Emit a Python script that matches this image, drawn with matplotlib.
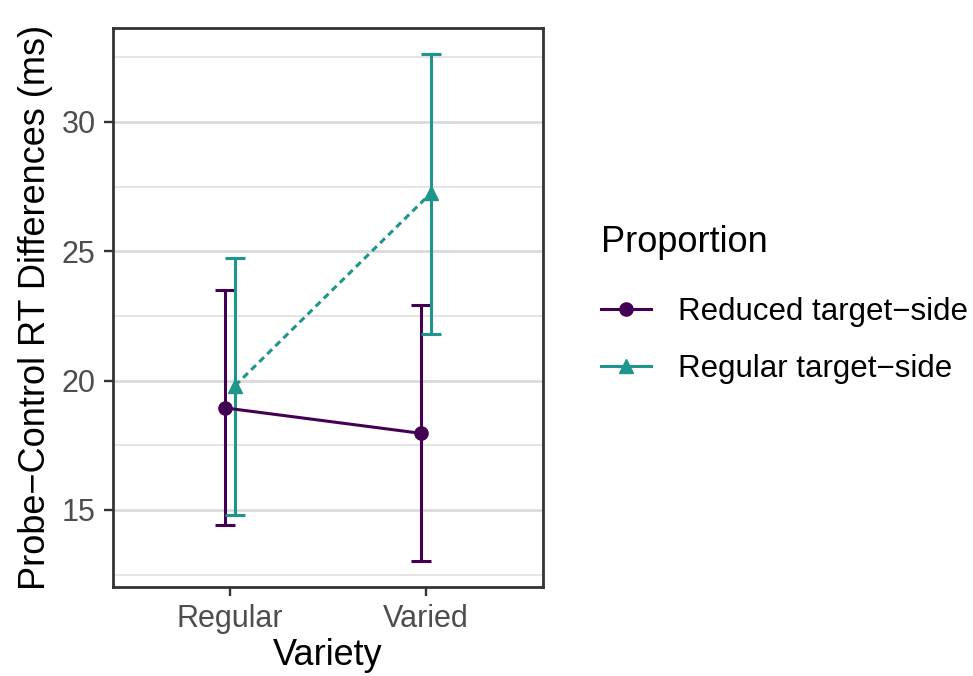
import numpy as np
import matplotlib
matplotlib.use("Agg")
import matplotlib.pyplot as plt
from matplotlib.lines import Line2D

plt.rcParams['font.family'] = ['Liberation Sans', 'DejaVu Sans']

# data
variety     = ["Regular", "Varied"]
proportions = ["Reduced target\u2212side", "Regular target\u2212side"]
means       = {"Reduced target\u2212side" : [18.94, 17.96],
               "Regular target\u2212side" : [19.80, 27.23]}
lower       = {"Reduced target\u2212side" : [14.42, 13.04],
               "Regular target\u2212side" : [14.79, 21.79]}
upper       = {"Reduced target\u2212side" : [23.48, 22.93],
               "Regular target\u2212side" : [24.72, 32.64]}

colors  = ["#440154", "#1F968B"]
markers = ["o", "^"]
styles  = ["-", "--"]
dodge   = [-0.025, 0.025]
lw      = 2.2

fig = plt.figure(figsize=(9.73, 6.76), dpi=100)
ax  = fig.add_axes([0.116, 0.1317, 0.442, 0.827])

x = np.arange(1, len(variety) + 1)
for i, name in enumerate(proportions):
    xs = x + dodge[i]
    m  = np.array(means[name])
    lo = m - np.array(lower[name])
    hi = np.array(upper[name]) - m
    ax.errorbar(xs, m, yerr=[lo, hi], fmt="none", ecolor=colors[i],
                elinewidth=lw, capsize=7, capthick=lw, zorder=3)
    line, = ax.plot(xs, m, color=colors[i], linestyle=styles[i], linewidth=lw,
                    marker=markers[i], markersize=9.5, zorder=4)
    if styles[i] == "--":
        line.set_dashes((2.2, 1.5))

ax.set_xlim(0.4, 2.6)
ax.set_ylim(12.02, 33.63)
ax.set_xticks(x)
ax.set_xticklabels(variety)
ax.set_yticks([15, 20, 25, 30])
ax.set_yticks([12.5, 17.5, 22.5, 27.5, 32.5], minor=True)

ax.grid(axis="y", which="major", color="#D9D9D9", linewidth=1.9, zorder=0)
ax.grid(axis="y", which="minor", color="#E3E3E3", linewidth=1.3, zorder=0)
ax.set_axisbelow(True)

for sp in ax.spines.values():
    sp.set_color("#333333")
    sp.set_linewidth(2.0)

ax.tick_params(axis="both", which="major", length=6.5, width=1.7, color="#333333",
               labelcolor="#4D4D4D", labelsize=22, pad=6)
ax.tick_params(axis="both", which="minor", length=0)

ax.set_xlabel("Variety", fontsize=26, labelpad=3)
ax.set_ylabel("Probe\u2212Control RT Differences (ms)", fontsize=26, labelpad=6)

handles = [Line2D([0], [0], color=colors[i], linestyle="-", linewidth=lw,
                  marker=markers[i], markersize=9.5) for i in range(2)]
leg = fig.legend(handles, proportions, title="Proportion", loc="upper left",
                 bbox_to_anchor=(0.605, 0.685), frameon=False, fontsize=22.5,
                 title_fontsize=26, handlelength=1.6, handletextpad=0.85,
                 labelspacing=0.87, borderaxespad=0)
leg._legend_box.align = "left"
leg._legend_box.sep = 26

fig.savefig("out.png", dpi=100)
